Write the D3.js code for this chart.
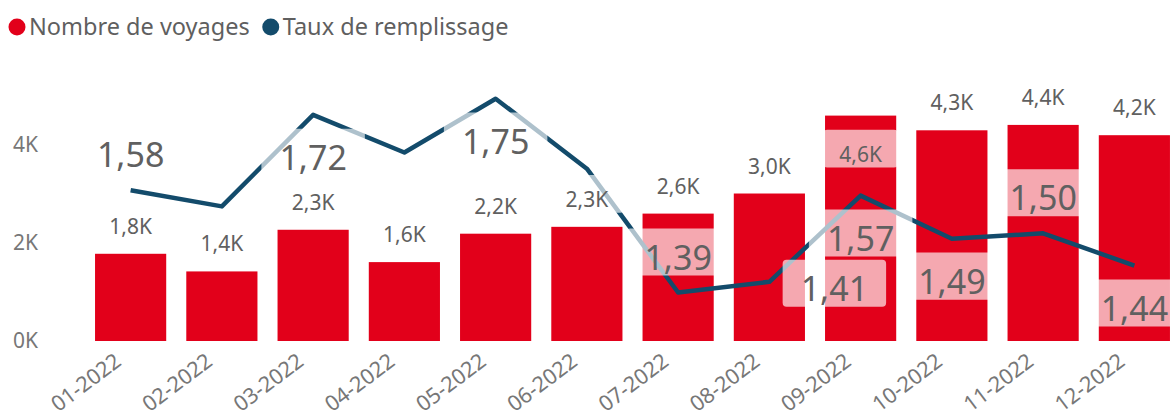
<!DOCTYPE html>
<html>
<head>
<meta charset="utf-8">
<script src="https://cdn.jsdelivr.net/npm/d3@7"></script>
<style>
  html, body { margin: 0; padding: 0; background: #fff; }
  svg { display: block; font-family: "Segoe UI", "Noto Sans", sans-serif; }
</style>
</head>
<body>
<svg id="chart" width="1176" height="420"></svg>
<script>
// Monthly trips (bars) and fill rate (line), 2022
const months = ["01-2022", "02-2022", "03-2022", "04-2022", "05-2022", "06-2022",
                "07-2022", "08-2022", "09-2022", "10-2022", "11-2022", "12-2022"];
const voyages = [1780, 1420, 2270, 1610, 2190, 2330, 2600, 3010, 4600, 4300, 4410, 4200];
const taux = [1.58, 1.55, 1.72, 1.65, 1.75, 1.62, 1.39, 1.41, 1.57, 1.49, 1.50, 1.44];
const yTicks = [0, 2000, 4000];
const legendItems = ["Nombre de voyages", "Taux de remplissage"];

// Where each line label sits relative to its point (null = hidden)
const lineLabelPlacement = ["above", null, "below", null, "below", null,
                            "above", "right", "below", "below", "above", "below"];

const RED = "#E2001A";
const BLUE = "#134B6B";
const FONT = "'Segoe UI', 'Noto Sans', sans-serif";

const svg = d3.select("#chart");

const x = d3.scaleBand().domain(months).range([85, 1180]).paddingInner(0.22).paddingOuter(0.11);
const y = d3.scaleLinear().domain([0, 5000]).range([341, 96]);
const y2 = d3.scaleLinear().domain([1.30, 1.755]).range([341, 96]);

const fmtK = v => d3.format(".1f")(v / 1000).replace(".", ",") + "K";
const fmtRate = v => d3.format(".2f")(v).replace(".", ",");

// Legend
const legend = svg.append("g").attr("transform", "translate(0,27)");
const legendColors = [RED, BLUE];
let lx = 17;
legendItems.forEach((name, i) => {
  legend.append("circle").attr("cx", lx).attr("cy", 0).attr("r", 8.5).attr("fill", legendColors[i]);
  const t = legend.append("text").attr("x", lx + 12).attr("y", 0).attr("dy", "0.35em")
    .attr("font-size", 23.5).attr("fill", "#5f5f5f").text(name);
  lx += 12 + t.node().getComputedTextLength() + 21;
});

// Y axis (left, no line)
const yAxis = d3.axisLeft(y).tickValues(yTicks).tickSize(0).tickPadding(0)
  .tickFormat(d => d3.format(".0f")(d / 1000) + "K");
svg.append("g").attr("transform", "translate(38,0)").call(yAxis)
  .call(g => g.select(".domain").remove())
  .call(g => g.selectAll("text").attr("font-size", 21).attr("fill", "#777")
    .attr("font-family", FONT));

// X axis with rotated labels
const xAxis = d3.axisBottom(x).tickSize(0).tickPadding(0);
svg.append("g").call(xAxis)
  .call(g => g.select(".domain").remove())
  .call(g => g.selectAll(".tick").attr("transform", d => `translate(${x(d) + x.bandwidth() / 2 - 8},364)`))
  .call(g => g.selectAll("text")
    .attr("font-size", 21.5).attr("fill", "#777")
    .attr("font-family", FONT)
    .attr("text-anchor", "end").attr("dy", 0).attr("y", 0)
    .attr("transform", "rotate(-37)"));

// Bars
svg.append("g").selectAll("rect").data(voyages).join("rect")
  .attr("x", (d, i) => x(months[i]))
  .attr("width", x.bandwidth())
  .attr("y", d => y(d))
  .attr("height", d => y(0) - y(d))
  .attr("fill", RED);

// Line
const line = d3.line().x((d, i) => x(months[i]) + x.bandwidth() / 2).y(d => y2(d));
svg.append("path").datum(taux).attr("d", line)
  .attr("fill", "none").attr("stroke", BLUE).attr("stroke-width", 4.5)
  .attr("stroke-linejoin", "round");

// Label with translucent backing box
function boxedLabel(parent, cx, baseline, text, size, padX) {
  const g = parent.append("g");
  const rect = g.append("rect");
  const t = g.append("text").attr("x", cx).attr("y", baseline)
    .attr("text-anchor", "middle").attr("font-size", size).attr("fill", "#606060").text(text);
  const w = t.node().getComputedTextLength() + padX * 2;
  const cap = size * 0.71;
  rect.attr("x", cx - w / 2).attr("y", baseline - cap - 17)
    .attr("width", w).attr("height", cap + 17 + 6)
    .attr("rx", 4).attr("fill", "#fff").attr("fill-opacity", 0.66);
}

const labels = svg.append("g");

// Bar value labels (moved inside the bar when there is no room above)
voyages.forEach((v, i) => {
  const cx = x(months[i]) + x.bandwidth() / 2;
  const top = y(v);
  const inside = top - 20 < 100;
  const baseline = inside ? top + 46 : top - 20;
  boxedLabel(labels, cx, baseline, fmtK(v), 21, 16);
});

// Line value labels
taux.forEach((v, i) => {
  const p = lineLabelPlacement[i];
  if (!p) return;
  let cx = x(months[i]) + x.bandwidth() / 2;
  const py = y2(v);
  let baseline;
  if (p === "above") baseline = py - 23;
  else if (p === "below") baseline = py + 55;
  else { baseline = py + 19; cx += 65; }
  boxedLabel(labels, cx, baseline, fmtRate(v), 34, 18);
});
</script>
</body>
</html>
